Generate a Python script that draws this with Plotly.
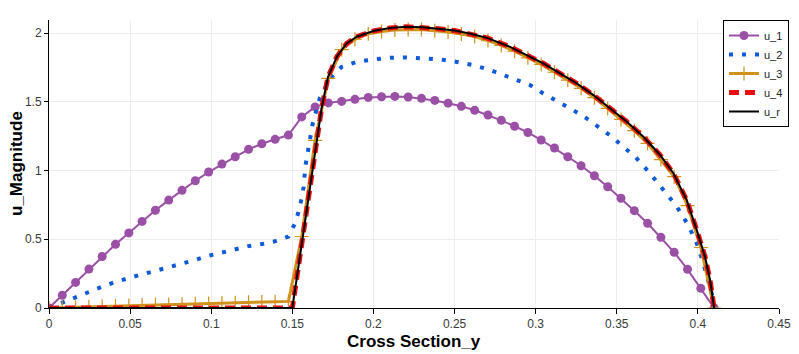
import plotly.graph_objects as go

# node positions (cross section y) for u_1 / u_3
x_nodes = [0.0, 0.0082, 0.0164, 0.0246, 0.0328, 0.041, 0.0492, 0.0574, 0.0656, 0.0738,
           0.082, 0.0902, 0.0984, 0.1066, 0.1148, 0.123, 0.1312, 0.1394, 0.1476, 0.1558,
           0.164, 0.1722, 0.1804, 0.1886, 0.1968, 0.205, 0.2132, 0.2214, 0.2296, 0.2378,
           0.246, 0.2542, 0.2624, 0.2706, 0.2788, 0.287, 0.2952, 0.3034, 0.3116, 0.3198,
           0.328, 0.3362, 0.3444, 0.3526, 0.3608, 0.369, 0.3772, 0.3854, 0.3936, 0.4018, 0.41]

u_1 = [0.0, 0.093, 0.186, 0.283, 0.375, 0.463, 0.546, 0.63, 0.711, 0.785,
       0.856, 0.926, 0.989, 1.047, 1.10, 1.154, 1.195, 1.227, 1.258, 1.39,
       1.463, 1.492, 1.503, 1.518, 1.532, 1.537, 1.539, 1.535, 1.525, 1.51,
       1.49, 1.467, 1.438, 1.404, 1.365, 1.322, 1.277, 1.222, 1.164, 1.10,
       1.035, 0.962, 0.882, 0.798, 0.708, 0.616, 0.514, 0.405, 0.281, 0.143, 0.0]

u_3 = [0.0, 0.003, 0.006, 0.009, 0.012, 0.015, 0.018, 0.021, 0.024, 0.026,
       0.028, 0.031, 0.033, 0.036, 0.038, 0.041, 0.043, 0.046, 0.048, 0.52,
       1.22, 1.67, 1.88, 1.955, 1.995, 2.012, 2.022, 2.025, 2.025, 2.017,
       2.008, 1.993, 1.975, 1.945, 1.91, 1.868, 1.82, 1.772, 1.715, 1.657,
       1.598, 1.53, 1.452, 1.372, 1.29, 1.198, 1.08, 0.955, 0.745, 0.44, 0.0]

x_2 = [0.0, 0.0082, 0.0164, 0.0246, 0.0328, 0.041, 0.0492, 0.0574, 0.0656, 0.0738,
       0.082, 0.0902, 0.0984, 0.1066, 0.1148, 0.123, 0.1312, 0.1394, 0.1476,
       0.1517, 0.1547, 0.157, 0.158, 0.16, 0.1626, 0.167, 0.1733, 0.1805, 0.1897,
       0.20, 0.2102, 0.2205, 0.2308, 0.241, 0.2514, 0.2616, 0.2719, 0.2822, 0.2965,
       0.3047, 0.313, 0.3223, 0.3305, 0.3387, 0.3469, 0.354, 0.3613, 0.3705, 0.3787,
       0.387, 0.394, 0.3993, 0.4034, 0.4065, 0.4096, 0.41]
u_2 = [0.0, 0.04, 0.08, 0.12, 0.155, 0.19, 0.22, 0.245, 0.27, 0.295,
       0.32, 0.35, 0.38, 0.405, 0.43, 0.45, 0.465, 0.485, 0.52,
       0.616, 0.737, 0.882, 1.03, 1.17, 1.343, 1.53, 1.67, 1.755, 1.79,
       1.808, 1.82, 1.823, 1.818, 1.809, 1.79, 1.767, 1.731, 1.687, 1.622,
       1.561, 1.508, 1.445, 1.387, 1.319, 1.246, 1.173, 1.1, 0.98, 0.858,
       0.737, 0.604, 0.47, 0.325, 0.204, 0.058, 0.0]

x_r = [0.0, 0.15, 0.155, 0.16, 0.165, 0.168, 0.172, 0.1775, 0.1835, 0.19, 0.2, 0.21,
       0.22, 0.23, 0.24, 0.25, 0.26, 0.27, 0.2842, 0.2945, 0.3047, 0.315, 0.3253,
       0.3356, 0.3459, 0.3562, 0.3664, 0.3767, 0.3849, 0.3931, 0.3993, 0.4044,
       0.4075, 0.41]
u_r = [0.0, 0.0, 0.40, 0.80, 1.2, 1.45, 1.68, 1.83, 1.925, 1.975, 2.015, 2.037,
       2.046, 2.042, 2.032, 2.018, 1.995, 1.965, 1.90, 1.84, 1.78, 1.707, 1.634,
       1.549, 1.452, 1.355, 1.246, 1.113, 0.98, 0.785, 0.567, 0.373, 0.204, 0.0]

x_4 = list(x_r)
u_4 = [0.0, 0.0, 0.40, 0.80, 1.2, 1.45, 1.68, 1.83, 1.925, 1.975, 2.015, 2.037,
       2.046, 2.042, 2.032, 2.018, 1.995, 1.965, 1.90, 1.84, 1.78, 1.707, 1.634,
       1.549, 1.452, 1.355, 1.246, 1.113, 0.98, 0.785, 0.567, 0.373, 0.204, 0.0]

x_ticks = [0, 0.05, 0.1, 0.15, 0.2, 0.25, 0.3, 0.35, 0.4, 0.45]
x_tick_text = ["0", "0.05", "0.1", "0.15", "0.2", "0.25", "0.3", "0.35", "0.4", "0.45"]
y_ticks = [0, 0.5, 1, 1.5, 2]
y_tick_text = ["0", "0.5", "1", "1.5", "2"]
x_title = "Cross Section_y"
y_title = "u_Magnitude"

fig = go.Figure()
fig.add_trace(go.Scatter(x=x_nodes, y=u_1, name="u_1", mode="lines+markers",
                         line=dict(color="#9a50a5", width=2),
                         marker=dict(symbol="circle", size=9, color="#9a50a5")))
fig.add_trace(go.Scatter(x=x_2, y=u_2, name="u_2", mode="lines",
                         line=dict(color="#0f5ad8", width=4, dash="4px,9px")))
fig.add_trace(go.Scatter(x=x_nodes, y=u_3, name="u_3", mode="lines+markers",
                         line=dict(color="#d0921c", width=3),
                         marker=dict(symbol="cross-thin", size=10,
                                     line=dict(color="#d0921c", width=1.2))))
fig.add_trace(go.Scatter(x=x_4, y=u_4, name="u_4", mode="lines",
                         line=dict(color="#e81010", width=5, dash="10px,6px")))
fig.add_trace(go.Scatter(x=x_r, y=u_r, name="u_r", mode="lines",
                         line=dict(color="#000000", width=2)))

axis_font = dict(family="Liberation Sans, Arial, sans-serif", size=12, color="#3a3a3a")
title_font = dict(family="Liberation Sans, Arial, sans-serif", size=17, color="#000000")

fig.update_layout(
    width=799, height=354,
    margin=dict(l=49, r=10, t=20, b=46),
    paper_bgcolor="white", plot_bgcolor="white",
    showlegend=True,
    legend=dict(x=1.0, xanchor="right", y=1.0, yanchor="top",
                bgcolor="white", bordercolor="black", borderwidth=1,
                font=dict(family="Liberation Sans, Arial, sans-serif", size=11, color="#222"),
                tracegroupgap=0, itemwidth=30),
    xaxis=dict(range=[0, 0.45], domain=[0, 0.9865], tickvals=x_ticks, ticktext=x_tick_text,
               showline=True, linecolor="black", linewidth=1,
               ticks="outside", ticklen=5, tickcolor="black",
               showgrid=True, gridcolor="#ececec", zeroline=False,
               tickfont=axis_font, automargin=False),
    yaxis=dict(range=[0, 2.095], tickvals=y_ticks, ticktext=y_tick_text,
               showline=True, linecolor="black", linewidth=1,
               ticks="outside", ticklen=4, tickcolor="black",
               showgrid=True, gridcolor="#ececec", zeroline=False,
               tickfont=axis_font, automargin=False),
    annotations=[
        dict(text="<b>" + x_title + "</b>", xref="x domain", yref="paper",
             x=0.5, y=-33 / 288, xanchor="center", yanchor="middle",
             showarrow=False, font=title_font),
        dict(text="<b>" + y_title + "</b>", xref="paper", yref="y domain",
             x=-33 / 740, y=0.5, xanchor="center", yanchor="middle", textangle=-90,
             showarrow=False, font=title_font),
    ],
)

fig.write_html("out.html", config={"displayModeBar": False},
               post_script="document.body.style.margin='0';document.body.style.padding='0';")
